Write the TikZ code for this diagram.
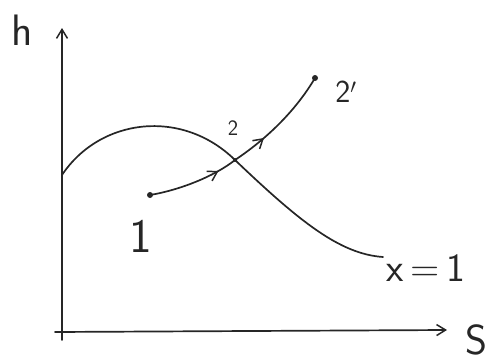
\documentclass[tikz,border=0pt]{standalone}
\usetikzlibrary{arrows.meta,decorations.markings}
\begin{document}
\begin{tikzpicture}[x=1pt,y=-1pt,
  ink/.style={draw=black!85,line width=1.7pt,line cap=round},
  lbl/.style={font=\sffamily,text=black!85,inner sep=0pt},
  dotpt/.style={circle,fill=black!85,inner sep=0pt,minimum size=6pt},
  midarrows/.style={postaction={decorate},decoration={markings,
     mark=at position 0.35 with {\arrow{Straight Barb[length=9pt,width=11pt,line width=1.5pt]}},
     mark=at position 0.62 with {\arrow{Straight Barb[length=9pt,width=11pt,line width=1.5pt]}}}}]
\useasboundingbox (0,0) rectangle (496,364);
% axes
\coordinate (ytop) at (62,28);
\coordinate (xend) at (447,330);
\coordinate (xstart) at (55,332);
\coordinate (ybot) at (62,340);
\draw[ink,-{Straight Barb[length=9pt,width=11pt,line width=1.5pt]}] (ybot) -- (ytop);
\draw[ink,-{Straight Barb[length=9pt,width=11pt,line width=1.5pt]}] (xstart) -- (xend);
\node[lbl,font=\sffamily\fontsize{44}{44}\selectfont] (h) at (22,30) {h};
\node[lbl,font=\sffamily\fontsize{42}{42}\selectfont] (S) at (476,340) {S};
% saturation curve x=1
\coordinate (satA) at (62,175);
\coordinate (satE) at (383,257);
\node[dotpt,minimum size=4pt] (p2) at (235,160) {};
\draw[ink] (satA) .. controls (100,118) and (182,108) .. (p2.center)
  .. controls (300,222) and (340,254) .. (satE);
\node[lbl,font=\sffamily\fontsize{40}{40}\selectfont,anchor=west] (xeq) at (386,268) {x\,=\,1};
% process 1 -> 2 -> 2'
\node[dotpt] (p1) at (150,195) {};
\node[dotpt] (p2p) at (315,78) {};
\draw[ink,midarrows] (p1.center) .. controls (180,190) and (215,176) .. (p2.center)
  .. controls (265,140) and (295,112) .. (p2p.center);
\node[lbl,font=\sffamily\fontsize{48}{48}\selectfont] (l1) at (141,236) {1};
\node[lbl,font=\sffamily\fontsize{22}{22}\selectfont] (l2) at (233,128) {2};
\node[lbl,font=\sffamily\fontsize{32}{32}\selectfont] (l2p) at (346,92) {2$^{\prime}$};
\end{tikzpicture}
\end{document}
